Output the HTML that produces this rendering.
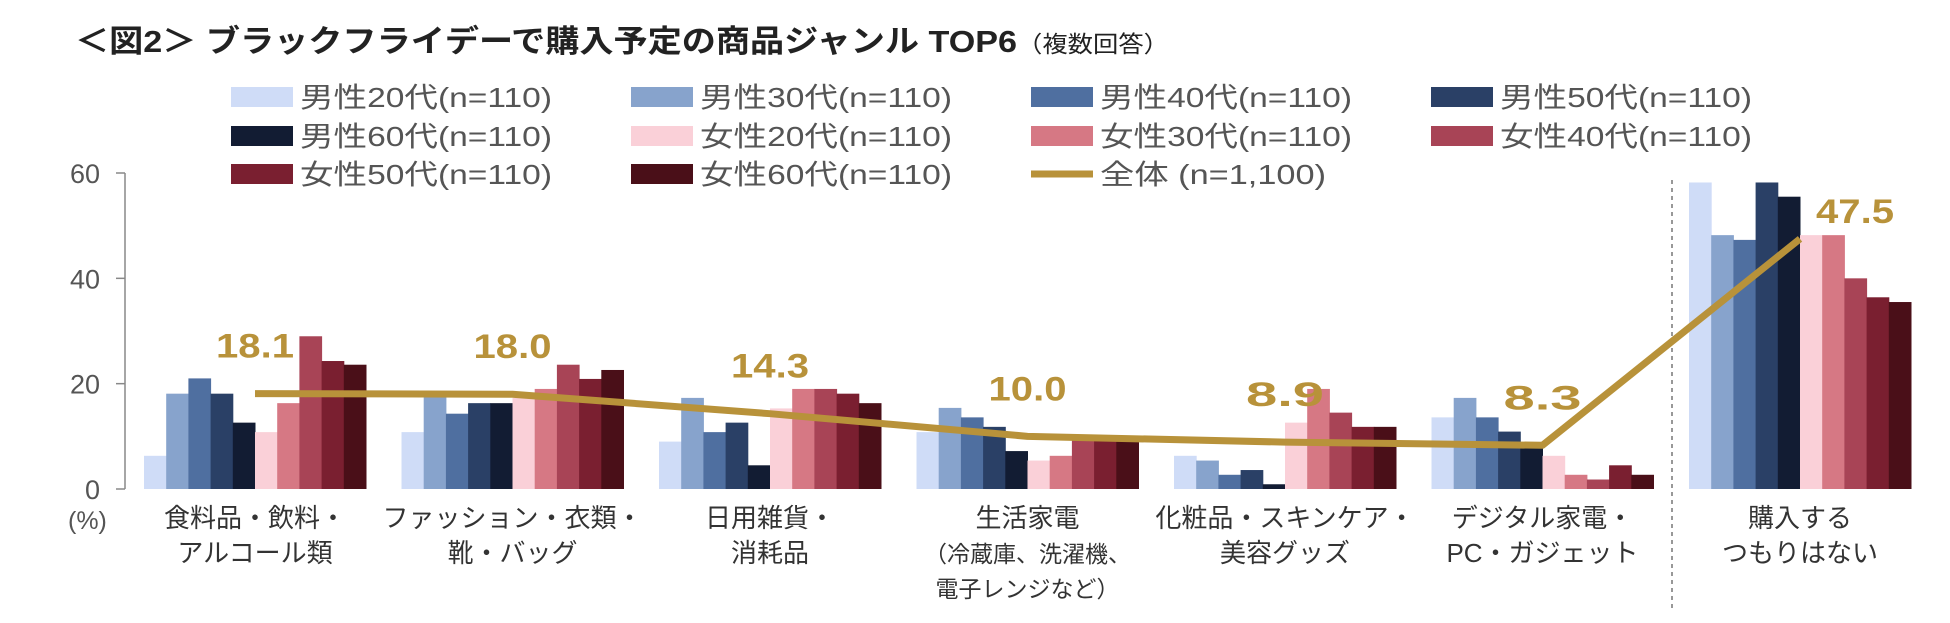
<!DOCTYPE html>
<html><head><meta charset="utf-8"><style>
html,body{margin:0;padding:0;background:#fff;}
svg{display:block;font-family:"Liberation Sans","Noto Sans CJK JP",sans-serif;}
</style></head><body>
<svg id="chart" width="1950" height="623" viewBox="0 0 1950 623">
<text x="75" y="52" font-size="31" font-weight="bold" fill="#222" textLength="1094" lengthAdjust="spacingAndGlyphs">＜図2＞ ブラックフライデーで購入予定の商品ジャンル TOP6<tspan font-size="23" font-weight="normal">（複数回答）</tspan></text>
<g id="legend"></g>
<g id="axis"></g>
<g id="bars"></g>
<g id="cats"></g>
<g id="line"></g>
</svg>
<script>
const categories=[["食料品・飲料・","アルコール類"],["ファッション・衣類・","靴・バッグ"],["日用雑貨・","消耗品"],["生活家電","（冷蔵庫、洗濯機、","電子レンジなど）"],["化粧品・スキンケア・","美容グッズ"],["デジタル家電・","PC・ガジェット"],["購入する","つもりはない"]];
const seriesNames=["男性20代(n=110)","男性30代(n=110)","男性40代(n=110)","男性50代(n=110)","男性60代(n=110)","女性20代(n=110)","女性30代(n=110)","女性40代(n=110)","女性50代(n=110)","女性60代(n=110)"];
const colors=["#cfdcf7","#87a3cc","#4f6fa0","#2a4066","#121c33","#fad0d8","#d67884","#a84456","#7a1f30","#4a0f18"];
const m20=[6.3,10.8,9.0,10.8,6.3,13.6,58.2];
const m30=[18.1,17.5,17.3,15.4,5.4,17.3,48.2];
const m40=[21.0,14.3,10.8,13.6,2.7,13.6,47.3];
const m50=[18.1,16.3,12.6,11.8,3.6,10.9,58.2];
const m60=[12.6,16.3,4.5,7.2,0.9,8.2,55.5];
const f20=[10.8,17.3,15.3,5.4,12.6,6.3,48.2];
const f30=[16.3,19.0,19.0,6.3,19.0,2.7,48.2];
const f40=[29.0,23.6,19.0,9.5,14.5,1.8,40.0];
const f50=[24.3,20.9,18.1,9.5,11.8,4.5,36.4];
const f60=[23.6,22.6,16.3,9.3,11.8,2.7,35.5];
const series=[m20,m30,m40,m50,m60,f20,f30,f40,f50,f60];
const total=[18.1,18.0,14.3,10.0,8.9,8.3,47.5];
const yTicks=[0,20,40,60];
const NS="http://www.w3.org/2000/svg";
function mk(tag,attrs,parent,text){const e=document.createElementNS(NS,tag);for(const k in attrs)e.setAttribute(k,attrs[k]);if(text!==undefined)e.textContent=text;parent.appendChild(e);return e;}
const y0=489,yScale=316/60;
const Y=v=>y0-v*yScale;
const gStart=144,gPeriod=257.5,barW=22.2;
const X=(g,s)=>gStart+g*gPeriod+s*barW;
const Xc=g=>gStart+g*gPeriod+5*barW;
const ax=document.getElementById('axis');
let e=mk('line',{x1:125,y1:Y(60),x2:125,y2:y0,stroke:'#888','stroke-width':1.5},ax);


yTicks.forEach(t=>{
 let l=mk('line',{x1:116,y1:Y(t),x2:125,y2:Y(t),stroke:'#888','stroke-width':1.5},ax);
 
 
 let tx=mk('text',{x:100,y:Y(t)+10,'font-size':27,fill:'#555','text-anchor':'end'},ax,String(t));
 
 
});
e=mk('text',{x:68,y:529,'font-size':25,fill:'#555'},ax,'(%)');


e=mk('line',{x1:1672,y1:180,x2:1672,y2:610,stroke:'#777','stroke-width':1.5,'stroke-dasharray':'4,4'},ax);


const bg=document.getElementById('bars');
series.forEach((arr,s)=>arr.forEach((v,g)=>{
 const r=mk('rect',{x:X(g,s),y:Y(v),width:barW+0.5,height:v*yScale,fill:colors[s]},bg);
 
 
}));
const cg=document.getElementById('cats');
categories.forEach((lines,g)=>lines.forEach((ln,i)=>{
 const fs=(g==3&&i>0)?23:26;
 const t=mk('text',{x:Xc(g),y:527+i*35,'font-size':fs,fill:'#333','text-anchor':'middle'},cg,ln);
 
 
}));
const lg=document.getElementById('line');
const pts=total.map((v,g)=>Xc(g)+','+Y(v)).join(' ');
e=mk('polyline',{points:pts,fill:'none',stroke:'#b8923a','stroke-width':7,'stroke-linejoin':'round'},lg);


total.forEach((v,g)=>{
 const last=g==total.length-1;
 const t=mk('text',{x:Xc(g)+(last?55:0),y:Y(v)-(last?16:36),'font-size':34,'font-weight':'bold',fill:'#b8923a','text-anchor':'middle',textLength:78,lengthAdjust:'spacingAndGlyphs'},lg,v.toFixed(1));
 
 
});
const lgd=document.getElementById('legend');
const colX=[231,631,1031,1431],rowY=[97,136,174];
seriesNames.forEach((n,i)=>{
 const cx=colX[i%4],cy=rowY[Math.floor(i/4)];
 const r=mk('rect',{x:cx,y:cy-10,width:62,height:20,fill:colors[i]},lgd);
 
 
 const t=mk('text',{x:cx+69,y:cy+10,'font-size':28,fill:'#555',textLength:252,lengthAdjust:'spacingAndGlyphs'},lgd,n);
 
 
});
e=mk('line',{x1:1031,y1:174,x2:1093,y2:174,stroke:'#b8923a','stroke-width':7},lgd);


e=mk('text',{x:1100,y:184,'font-size':28,fill:'#555',textLength:226,lengthAdjust:'spacingAndGlyphs'},lgd,'全体 (n=1,100)');


</script>
</body></html>
